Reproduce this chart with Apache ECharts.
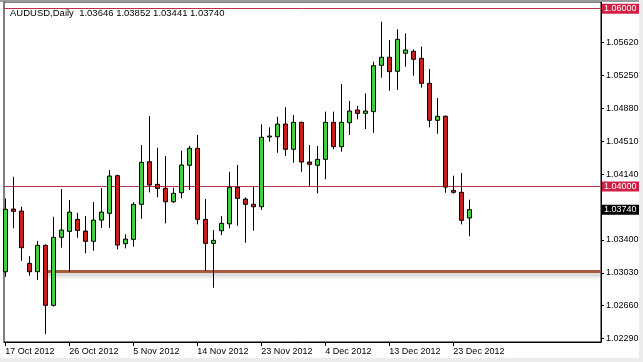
<!DOCTYPE html>
<html>
<head>
<meta charset="utf-8">
<script src="https://cdn.jsdelivr.net/npm/echarts@6/dist/echarts.min.js"></script>
<style>
html,body{margin:0;padding:0;background:#fff;}
#chart{width:643px;height:362px;}
</style>
</head>
<body>
<div id="chart"></div>
<script>
const symbol = 'AUDUSD';
const timeframe = 'Daily';
const dates = ['17 Oct 2012','18 Oct 2012','19 Oct 2012','21 Oct 2012','22 Oct 2012','23 Oct 2012','24 Oct 2012','25 Oct 2012','26 Oct 2012','28 Oct 2012','29 Oct 2012','30 Oct 2012','31 Oct 2012',
  '1 Nov 2012','2 Nov 2012','4 Nov 2012','5 Nov 2012','6 Nov 2012','7 Nov 2012','8 Nov 2012','9 Nov 2012','11 Nov 2012','12 Nov 2012','13 Nov 2012','14 Nov 2012','15 Nov 2012','16 Nov 2012','18 Nov 2012','19 Nov 2012','20 Nov 2012','21 Nov 2012','22 Nov 2012','23 Nov 2012','26 Nov 2012','27 Nov 2012','28 Nov 2012','29 Nov 2012','30 Nov 2012',
  '2 Dec 2012','3 Dec 2012','4 Dec 2012','5 Dec 2012','6 Dec 2012','7 Dec 2012','9 Dec 2012','10 Dec 2012','11 Dec 2012','12 Dec 2012','13 Dec 2012','14 Dec 2012','16 Dec 2012','17 Dec 2012','18 Dec 2012','19 Dec 2012','20 Dec 2012','21 Dec 2012','23 Dec 2012','24 Dec 2012','26 Dec 2012'];
const opens  = [1.03042,1.03747,1.03724,1.03136,1.03042,1.03339,1.02664,1.03429,1.03496,1.03631,1.03499,1.03384,1.03623,1.03699,1.04122,1.03357,1.03406,1.03800,1.04279,1.04025,1.03980,1.03829,1.03930,1.04239,1.04430,1.03631,1.03361,1.03503,1.03581,1.03991,1.03859,1.03800,1.03773,1.04557,1.04560,1.04703,1.04419,1.04722,1.04276,1.04239,1.04306,1.04722,1.04448,1.04718,1.04861,1.04823,1.04842,1.05363,1.05454,1.05296,1.05499,1.05521,1.05442,1.05161,1.04745,1.04790,1.03957,1.03935,1.03646];
const highs  = [1.03867,1.04110,1.03773,1.03218,1.03387,1.03350,1.03660,1.03972,1.03848,1.03705,1.03668,1.03826,1.03983,1.04186,1.04133,1.03462,1.03826,1.04467,1.04793,1.04437,1.04343,1.03987,1.04403,1.04459,1.04579,1.03859,1.03511,1.03668,1.04166,1.04242,1.03879,1.03998,1.04700,1.04666,1.04785,1.04891,1.04804,1.04730,1.04467,1.04456,1.04842,1.04842,1.05153,1.04962,1.04906,1.05048,1.05404,1.05854,1.05648,1.05769,1.05723,1.05543,1.05573,1.05322,1.04996,1.04800,1.04122,1.04152,1.03852];
const lows   = [1.02985,1.03530,1.03165,1.02997,1.02948,1.02341,1.02650,1.03312,1.03038,1.03424,1.03249,1.03278,1.03533,1.03533,1.03294,1.03305,1.03323,1.03638,1.03935,1.03879,1.03586,1.03815,1.03867,1.03961,1.03575,1.03053,1.02862,1.03454,1.03530,1.03559,1.03368,1.03503,1.03736,1.04504,1.04380,1.04343,1.04268,1.04166,1.04006,1.03924,1.04081,1.04419,1.04392,1.04579,1.04756,1.04647,1.04605,1.05224,1.05078,1.05086,1.05348,1.05246,1.05112,1.04666,1.04594,1.03930,1.03920,1.03575,1.03441];
const closes = [1.03744,1.03721,1.03312,1.03042,1.03339,1.02664,1.03429,1.03511,1.03713,1.03507,1.03384,1.03623,1.03713,1.04118,1.03342,1.03409,1.03800,1.04272,1.04017,1.03980,1.03829,1.03924,1.04242,1.04430,1.03631,1.03361,1.03395,1.03586,1.03991,1.03867,1.03800,1.03773,1.04554,1.04568,1.04703,1.04419,1.04722,1.04276,1.04250,1.04306,1.04722,1.04448,1.04722,1.04849,1.04823,1.04849,1.05359,1.05454,1.05292,1.05656,1.05536,1.05431,1.05161,1.04745,1.04790,1.03994,1.03935,1.03620,1.03740];
const xTickIndex = [0,8,16,24,32,40,48,56];
const yTicks = [1.0229,1.0266,1.0303,1.0340,1.0414,1.0451,1.0488,1.0525,1.0562];
const levelLines = [1.04000, 1.06000];
const supportLevel = 1.03045;

const n = closes.length;
const last = n - 1;
const candleData = opens.map((o, i) => [i, o, closes[i], lows[i], highs[i]]);
const titleText = symbol + ',' + timeframe + '  ' + [opens[last], highs[last], lows[last], closes[last]].map(v => v.toFixed(5)).join(' ');

const FONT = 'Liberation Sans';
const X_MIN = -0.17, X_MAX = 74.455;
const chart = echarts.init(document.getElementById('chart'), null, {renderer: 'canvas'});
chart.setOption({
  animation: false,
  backgroundColor: '#ffffff',
  grid: {left: 4, right: 42, top: 2, bottom: 20, show: true, borderColor: '#000', borderWidth: 1, backgroundColor: '#fff'},
  xAxis: {
    type: 'value', min: X_MIN, max: X_MAX,
    splitLine: {show: false},
    axisLine: {show: true, onZero: false, lineStyle: {color: '#000', width: 1}},
    axisTick: {show: true, length: 4, customValues: xTickIndex, lineStyle: {color: '#000'}},
    axisLabel: {customValues: xTickIndex, formatter: v => dates[Math.round(v)], align: 'left', margin: 5,
      color: '#000', fontFamily: FONT, fontSize: 9}
  },
  yAxis: {
    type: 'value', position: 'right', min: 1.022518, max: 1.060755, scale: true,
    splitLine: {show: false},
    axisLine: {show: true, onZero: false, lineStyle: {color: '#000', width: 1}},
    axisTick: {show: true, length: 3, customValues: yTicks, lineStyle: {color: '#000'}},
    axisLabel: {customValues: yTicks, formatter: v => v.toFixed(5), margin: 5, color: '#000', fontFamily: FONT, fontSize: 9}
  },
  series: [{
    type: 'candlestick',
    data: candleData,
    barWidth: 5,
    clip: true,
    z: 3,
    itemStyle: {color: '#3fcf3f', color0: '#c8201e', borderColor: '#000', borderColor0: '#000', borderWidth: 1},
    markLine: {
      silent: true, symbol: 'none', animation: false, precision: 5, z: 1,
      data: [
        [
          {coord: [4.75, supportLevel], lineStyle: {color: '#a65a3c', width: 3, type: 'solid',
             shadowColor: 'rgba(0,0,0,0.28)', shadowBlur: 4, shadowOffsetY: 3}, label: {show: false}},
          {coord: [X_MAX, supportLevel]}
        ],
        ...levelLines.map(v => ({yAxis: v, lineStyle: {color: '#b8304a', width: 1, type: 'solid'},
          label: {show: true, position: 'end', distance: 1, formatter: v.toFixed(5), color: '#fff', backgroundColor: '#d21f45',
            padding: [1, 3, 0, 2], fontFamily: FONT, fontSize: 9}})),
        {yAxis: closes[last], lineStyle: {color: 'rgba(0,0,0,0)', width: 0},
          label: {show: true, position: 'end', distance: 1, formatter: closes[last].toFixed(5), color: '#fff', backgroundColor: '#000',
            padding: [1, 3, 0, 2], fontFamily: FONT, fontSize: 9}}
      ]
    }
  }],
  graphic: [
    {type: 'rect', left: 0, top: 0, shape: {width: 643, height: 2}, style: {fill: '#9a9a9a'}, z: 100},
    {type: 'rect', left: 639, top: 0, shape: {width: 4, height: 362}, style: {fill: '#ececec'}, z: 100},
    {type: 'rect', left: 0, top: 358, shape: {width: 643, height: 4}, style: {fill: '#ececec'}, z: 100},
    {type: 'text', left: 10, top: 8, style: {text: titleText, fill: '#000', font: '9.5px "Liberation Sans"'}, z: 100}
  ]
});
</script>
</body>
</html>
